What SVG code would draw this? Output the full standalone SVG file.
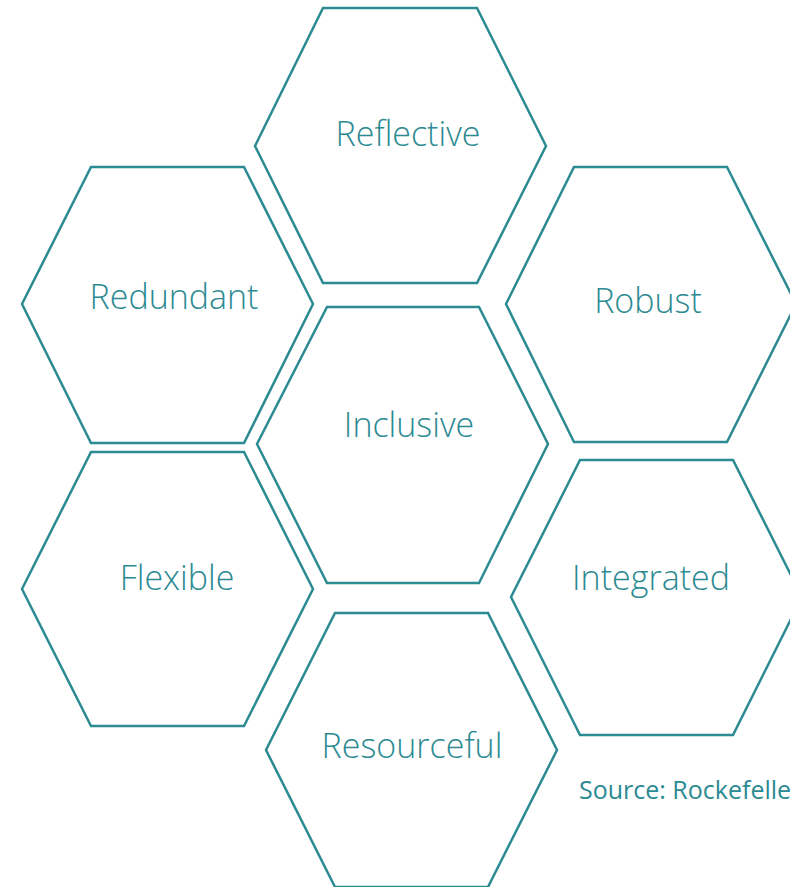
<svg xmlns="http://www.w3.org/2000/svg" width="790" height="887" viewBox="0 0 790 887">
<style>
.hex{fill:#ffffff;stroke:#2b8a92;stroke-width:2.5;stroke-linejoin:miter}
.lbl{font-family:"Open Sans","Noto Sans","DejaVu Sans",sans-serif;font-weight:300;font-size:34px;fill:#2b8a92;text-anchor:middle}
.src{font-family:"Open Sans","Noto Sans","DejaVu Sans",sans-serif;font-weight:400;font-size:25px;fill:#2b8a92}
</style>
<rect width="790" height="887" fill="#ffffff"/>
<g id="reflective">
<polygon class="hex" points="323,8 477,8 546,146 477,283 323,283 255,146"/>
<text class="lbl" x="408" y="146">Reflective</text>
</g>
<g id="redundant">
<polygon class="hex" points="91,167 244,167 313,304 244,443 91,443 22,304"/>
<text class="lbl" x="174" y="309">Redundant</text>
</g>
<g id="robust">
<polygon class="hex" points="574,167 727,167 796,304 727,442 574,442 506,304"/>
<text class="lbl" x="648" y="313">Robust</text>
</g>
<g id="inclusive">
<polygon class="hex" points="327,307 479,307 548,444 479,583 327,583 257,444"/>
<text class="lbl" x="409" y="437">Inclusive</text>
</g>
<g id="flexible">
<polygon class="hex" points="91,452 244,452 313,589 244,726 91,726 22,589"/>
<text class="lbl" x="177" y="590">Flexible</text>
</g>
<g id="integrated">
<polygon class="hex" points="580,460 733,460 802,597 733,735 580,735 511,597"/>
<text class="lbl" x="651" y="590">Integrated</text>
</g>
<g id="resourceful">
<polygon class="hex" points="335,613 488,613 557,750 488,887 335,887 266,750"/>
<text class="lbl" x="412" y="758">Resourceful</text>
</g>
<g id="connectors"></g>
<text class="src" x="579" y="799">Source: Rockefelle</text>
</svg>
